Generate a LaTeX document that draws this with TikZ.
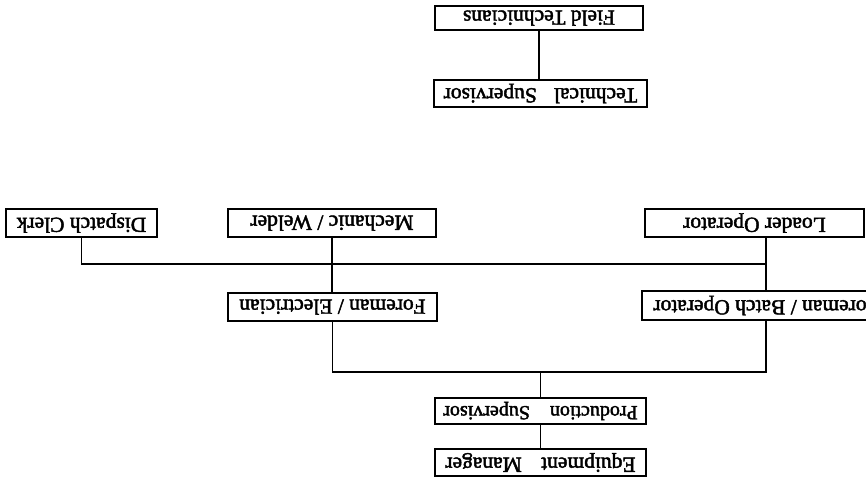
\documentclass[tikz,border=0pt]{standalone}
\usepackage{fontspec}
\usepackage{graphicx}
\setmainfont{Liberation Serif}
\newfontfamily\orgfont[FakeBold=2]{Liberation Serif}
\tikzset{
  orgbox/.style={draw=black, line width=1.3pt, inner sep=0pt, minimum height=27pt,
    font=\orgfont\fontsize{21.5}{24}\selectfont},
  smallbox/.style={orgbox, font=\orgfont\fontsize{20}{23}\selectfont},
  link/.style={draw=black, line width=1.3pt}
}
\newcommand{\flipt}[1]{\rotatebox{180}{#1}}
\begin{document}
\begin{tikzpicture}[x=1pt,y=-1pt]
\fill[white] (0,0) rectangle (866,479);
\clip (0,0) rectangle (866,479);
\node[orgbox, minimum width=208pt, minimum height=24pt] (ft) at (539,18) {\flipt{Field Technicians}};
\node[orgbox, minimum width=213pt] (ts) at (540.5,93.5) {\flipt{Technical\hspace{0.8em}Supervisor}};
\node[orgbox, minimum width=219pt, minimum height=28pt] (lo) at (754.5,223) {\flipt{Loader Operator}};
\node[orgbox, minimum width=208pt, minimum height=28pt] (mw) at (332,223) {\flipt{Mechanic / Welder}};
\node[orgbox, minimum width=151pt, minimum height=28pt] (dc) at (81.5,223) {\flipt{Dispatch Clerk}};
\node[orgbox, minimum width=209pt, minimum height=28pt] (fe) at (332.5,307) {\flipt{Foreman / Electrician}};
\node[orgbox, minimum width=248pt, minimum height=29pt] (fb) at (766,305.5) {\flipt{Foreman / Batch Operator}};
\node[smallbox, minimum width=211pt, minimum height=26pt] (ps) at (540.5,411) {\flipt{Production\hspace{1em}Supervisor}};
\node[orgbox, minimum width=211pt] (em) at (540.5,462.5) {\flipt{Equipment\hspace{0.9em}Manager}};
\coordinate (bus1) at (766,264);
\coordinate (bus2) at (540.5,372);
\draw[link] (ft.south) -- (ft.south |- ts.north);
\draw[link] (fb.north |- lo.south) -- (fb.north);
\draw[link] (mw.south) -- (mw.south |- fe.north);
\draw[link] (dc.south) |- (bus1);
\draw[link] (fe.south) |- (bus2) -| (fb.south);
\draw[link] (ps.north) -- (bus2);
\draw[link] (ps.south) -- (em.north);
\end{tikzpicture}
\end{document}
